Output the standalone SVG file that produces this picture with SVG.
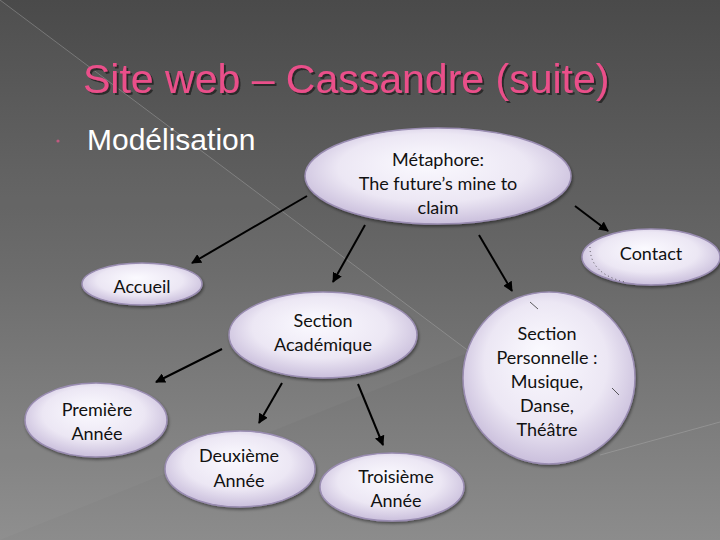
<svg xmlns="http://www.w3.org/2000/svg" width="720" height="540" viewBox="0 0 720 540">
<defs>
<linearGradient id="bg" x1="0" y1="0" x2="0" y2="1">
<stop offset="0" stop-color="#4a4a4a"/>
<stop offset="0.5" stop-color="#686868"/>
<stop offset="1" stop-color="#8c8c8c"/>
</linearGradient>
<radialGradient id="nodefill" cx="50%" cy="45%" r="55%" fx="45%" fy="35%">
<stop offset="0" stop-color="#fbfaff"/>
<stop offset="0.65" stop-color="#ece7f4"/>
<stop offset="1" stop-color="#cabfdc"/>
</radialGradient>
<filter id="sh" x="-10%" y="-10%" width="120%" height="130%">
<feDropShadow dx="1" dy="2" stdDeviation="1.5" flood-color="#000" flood-opacity="0.45"/>
</filter>
<filter id="tsh" x="-5%" y="-10%" width="110%" height="130%">
<feDropShadow dx="2" dy="2" stdDeviation="0.6" flood-color="#222" flood-opacity="0.8"/>
</filter>
<marker id="ah" viewBox="0 0 10 10" refX="9" refY="5" markerWidth="5" markerHeight="5" orient="auto" markerUnits="strokeWidth">
<path d="M0,0 L10,5 L0,10 z" fill="#000"/>
</marker>
</defs>
<style>
.node{fill:url(#nodefill);stroke:#9a8db2;stroke-width:1.5;filter:url(#sh)}
.lbl{font-family:Lato,"Open Sans","Noto Sans",sans-serif;font-size:18px;fill:#111;text-anchor:middle}
.conn{stroke:#000;stroke-width:2;fill:none;marker-end:url(#ah)}
.deco{stroke:#b0b0b0;stroke-width:0.7;fill:none;opacity:0.6}
.tick{stroke:#333;stroke-width:0.8}
</style>
<rect x="0" y="0" width="720" height="540" fill="url(#bg)"/>
<polygon points="0,0 470,352 0,540" fill="#fff" opacity="0.03"/>
<line class="deco" x1="0" y1="0" x2="470" y2="352"/>
<line class="deco" x1="600" y1="455" x2="720" y2="422"/>
<text x="83" y="93" font-family="Liberation Sans,Arial,sans-serif" font-size="41" fill="#ea4f8a" filter="url(#tsh)">Site web – Cassandre (suite)</text>
<circle cx="58" cy="141" r="1.6" fill="#c05a80"/>
<text x="87" y="150" font-family="Liberation Sans,Arial,sans-serif" font-size="30" fill="#ffffff">Modélisation</text>
<g id="connectors">
<line class="conn" x1="307" y1="196" x2="192" y2="263"/>
<line class="conn" x1="365" y1="225" x2="333" y2="282"/>
<line class="conn" x1="479" y1="235" x2="512" y2="291"/>
<line class="conn" x1="575" y1="206" x2="608" y2="231"/>
<line class="conn" x1="222" y1="349" x2="156" y2="382"/>
<line class="conn" x1="282" y1="383" x2="259" y2="423"/>
<line class="conn" x1="358" y1="384" x2="383" y2="445"/>
</g>
<g id="metaphore">
<ellipse class="node" cx="438" cy="176" rx="133" ry="48"/>
<text class="lbl" x="438" y="166">Métaphore:</text>
<text class="lbl" x="438" y="190">The future’s mine to</text>
<text class="lbl" x="438" y="214">claim</text>
</g>
<g id="contact">
<ellipse class="node" cx="651" cy="257" rx="69" ry="28"/>
<path d="M590,247 Q590,274 625,282" stroke="#333" stroke-width="0.8" stroke-dasharray="1,3" fill="none"/>
<text class="lbl" x="651" y="260">Contact</text>
</g>
<g id="accueil">
<ellipse class="node" cx="142" cy="284" rx="60" ry="21"/>
<text class="lbl" x="142" y="293">Accueil</text>
</g>
<g id="section-academique">
<ellipse class="node" cx="323" cy="335" rx="94" ry="43"/>
<text class="lbl" x="323" y="327">Section</text>
<text class="lbl" x="323" y="351">Académique</text>
</g>
<g id="section-personnelle">
<circle class="node" cx="549" cy="378" r="86"/>
<line class="tick" x1="530" y1="302" x2="538" y2="309"/>
<line class="tick" x1="612" y1="388" x2="619" y2="395"/>
<text class="lbl" x="547" y="340">Section</text>
<text class="lbl" x="547" y="364">Personnelle :</text>
<text class="lbl" x="547" y="388">Musique,</text>
<text class="lbl" x="547" y="412">Danse,</text>
<text class="lbl" x="547" y="436">Théâtre</text>
</g>
<g id="premiere-annee">
<ellipse class="node" cx="96" cy="420" rx="71" ry="37"/>
<text class="lbl" x="97" y="416">Première</text>
<text class="lbl" x="97" y="440">Année</text>
</g>
<g id="deuxieme-annee">
<ellipse class="node" cx="240" cy="469" rx="75" ry="38"/>
<text class="lbl" x="239" y="462">Deuxième</text>
<text class="lbl" x="239" y="487">Année</text>
</g>
<g id="troisieme-annee">
<ellipse class="node" cx="392" cy="487" rx="72" ry="34"/>
<text class="lbl" x="396" y="483">Troisième</text>
<text class="lbl" x="396" y="507">Année</text>
</g>
</svg>
